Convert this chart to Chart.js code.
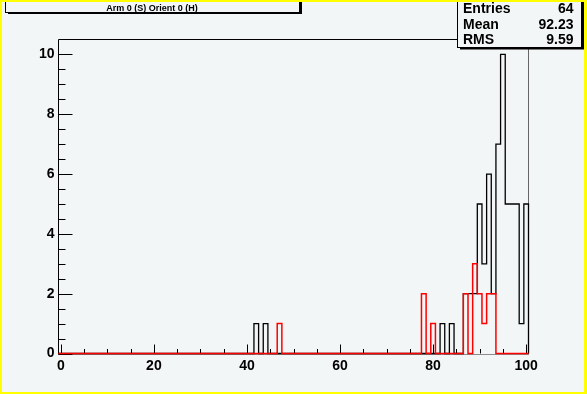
<!DOCTYPE html>
<html>
<head>
<meta charset="utf-8">
<script src="https://cdn.jsdelivr.net/npm/chart.js@4.4.0/dist/chart.umd.min.js"></script>
<style>
  html, body { margin: 0; padding: 0; background: #f3f6f6; }
  #histo { display: block; }
</style>
</head>
<body>
<canvas id="histo" width="587" height="394"></canvas>
<script>
// histogram definition: 101 unit bins centred on 0..100
const xMin = -0.5;
const xMax = 100.5;
const yMax = 10.5;

// non-empty bins (bin centre -> entries)
const blackBins   = [42, 44, 82, 84, 87, 88, 89, 90, 91, 92, 93, 94, 95, 96, 97, 98, 99, 100];
const blackCounts = [1,  1,  1,  1,  2,  2,  2,  5,  3,  6,  2,  7,  10, 5,  5,  5,  1,  5];
const redBins     = [47, 78, 80, 87, 89, 90, 91, 92, 93];
const redCounts   = [1,  2,  1,  2,  3,  2,  1,  2,  2];

const xTickLabels = [0, 20, 40, 60, 80, 100];
const yTickLabels = [0, 2, 4, 6, 8, 10];

const titleText = 'Arm 0 (S) Orient 0 (H)';
const statNames  = ['Entries', 'Mean', 'RMS'];
const statValues = ['64', '92.23', '9.59'];

const BG = '#f3f6f6';
const FONT = '"Liberation Sans", Arial, Helvetica, sans-serif';

// step outline points: left edge of every bin, then the closing edge
function histPoints(bins, counts) {
  const full = [];
  for (let c = 0; c <= 100; c++) full.push(0);
  bins.forEach((b, i) => { full[b] = counts[i]; });
  const pts = full.map((n, i) => ({ x: i - 0.5, y: n }));
  pts.push({ x: xMax, y: 0 });
  return pts;
}

const rootLook = {
  id: 'rootLook',
  beforeDraw(chart) {
    const ctx = chart.ctx;
    ctx.save();
    ctx.fillStyle = BG;
    ctx.fillRect(0, 0, chart.width, chart.height);
    ctx.restore();
  },
  beforeDatasetsDraw(chart) {
    const ctx = chart.ctx;
    const a = chart.chartArea;
    const xs = chart.scales.x, ys = chart.scales.y;
    ctx.save();
    ctx.lineWidth = 1;
    // axis line under the zero level
    ctx.strokeStyle = '#8c8c8c';
    ctx.beginPath();
    ctx.moveTo(a.left, a.bottom + 1);
    ctx.lineTo(a.right, a.bottom + 1);
    ctx.stroke();
    ctx.strokeStyle = '#000';
    ctx.beginPath();
    ctx.moveTo(a.left, a.bottom + 1);
    ctx.lineTo(a.left, a.top);
    ctx.lineTo(a.right, a.top);
    ctx.stroke();
    ctx.strokeStyle = '#666';
    ctx.beginPath();
    ctx.moveTo(a.right, a.top);
    ctx.lineTo(a.right, a.bottom + 1);
    ctx.stroke();
    ctx.strokeStyle = '#000';
    ctx.beginPath();
    // x ticks: major every 20, minor every 5
    for (let v = 0; v <= 100; v += 5) {
      const px = Math.round(xs.getPixelForValue(v)) + 0.5;
      const len = v % 20 === 0 ? 9 : 4.5;
      ctx.moveTo(px, a.bottom);
      ctx.lineTo(px, a.bottom - len);
    }
    // y ticks: major every 2, minor every 0.5
    for (let v = 0; v <= 10; v += 0.5) {
      const py = Math.round(ys.getPixelForValue(v)) + 0.5;
      const len = v % 2 === 0 ? 14 : 7;
      ctx.moveTo(a.left, py);
      ctx.lineTo(a.left + len, py);
    }
    ctx.stroke();
    ctx.restore();
  },
  afterDraw(chart) {
    const ctx = chart.ctx;
    ctx.save();

    // title box with shadow
    ctx.fillStyle = '#000';
    ctx.fillRect(8, 12, 294, 2);
    ctx.fillRect(300, -1, 2, 15);
    ctx.fillStyle = BG;
    ctx.fillRect(5.5, -1, 294, 13.5);
    ctx.strokeStyle = '#000';
    ctx.lineWidth = 1;
    ctx.strokeRect(5.5, -1, 294, 13.5);
    ctx.fillStyle = '#000';
    ctx.font = 'bold 9px ' + FONT;
    ctx.textAlign = 'center';
    ctx.textBaseline = 'alphabetic';
    ctx.fillText(titleText, 152, 10.5);

    // stats box with shadow
    ctx.fillRect(460, 47, 124, 2.5);
    ctx.fillRect(581.5, -1, 2.5, 50);
    ctx.fillStyle = BG;
    ctx.fillRect(457.5, -1, 124, 48.5);
    ctx.strokeRect(457.5, -1, 124, 48.5);
    ctx.fillStyle = '#000';
    ctx.font = 'bold 14px ' + FONT;
    statNames.forEach((name, i) => {
      const y = 13.3 + i * 15.5;
      ctx.textAlign = 'left';
      ctx.fillText(name, 463, y);
      ctx.textAlign = 'right';
      ctx.fillText(statValues[i], 573.5, y);
    });

    // yellow canvas border
    ctx.fillStyle = '#ffff00';
    ctx.fillRect(0, 0, chart.width, 2);
    ctx.fillRect(0, 0, 2, chart.height);
    ctx.fillRect(chart.width - 3, 0, 3, chart.height);
    ctx.fillRect(0, chart.height - 2, chart.width, 2);
    ctx.restore();
  }
};

new Chart(document.getElementById('histo'), {
  type: 'line',
  data: {
    // first dataset is drawn on top
    datasets: [
      {
        label: 'red',
        data: histPoints(redBins, redCounts),
        borderColor: '#ff0000',
        borderWidth: 1.5,
        stepped: 'before',
        pointRadius: 0,
        fill: false,
        clip: false
      },
      {
        label: 'black',
        data: histPoints(blackBins, blackCounts),
        borderColor: '#000000',
        borderWidth: 1.3,
        stepped: 'before',
        pointRadius: 0,
        fill: false,
        clip: false
      }
    ]
  },
  options: {
    responsive: false,
    animation: false,
    events: [],
    layout: { padding: { left: 0, top: 39.5, right: 58.5, bottom: 0 } },
    plugins: { legend: { display: false }, tooltip: { enabled: false } },
    scales: {
      x: {
        type: 'linear',
        min: xMin,
        max: xMax,
        grid: { display: false, drawTicks: false },
        border: { display: false },
        afterFit: s => { s.height = 40.5; },
        afterBuildTicks: s => { s.ticks = xTickLabels.map(v => ({ value: v })); },
        ticks: {
          padding: 4,
          maxRotation: 0,
          autoSkip: false,
          color: '#000',
          font: { family: FONT, weight: 'bold', size: 14 }
        }
      },
      y: {
        min: 0,
        max: yMax,
        grid: { display: false, drawTicks: false },
        border: { display: false },
        afterFit: s => { s.width = 58.5; },
        afterBuildTicks: s => { s.ticks = yTickLabels.map(v => ({ value: v })); },
        ticks: {
          padding: 4,
          color: '#000',
          font: { family: FONT, weight: 'bold', size: 14 }
        }
      }
    }
  },
  plugins: [rootLook]
});
</script>
</body>
</html>
